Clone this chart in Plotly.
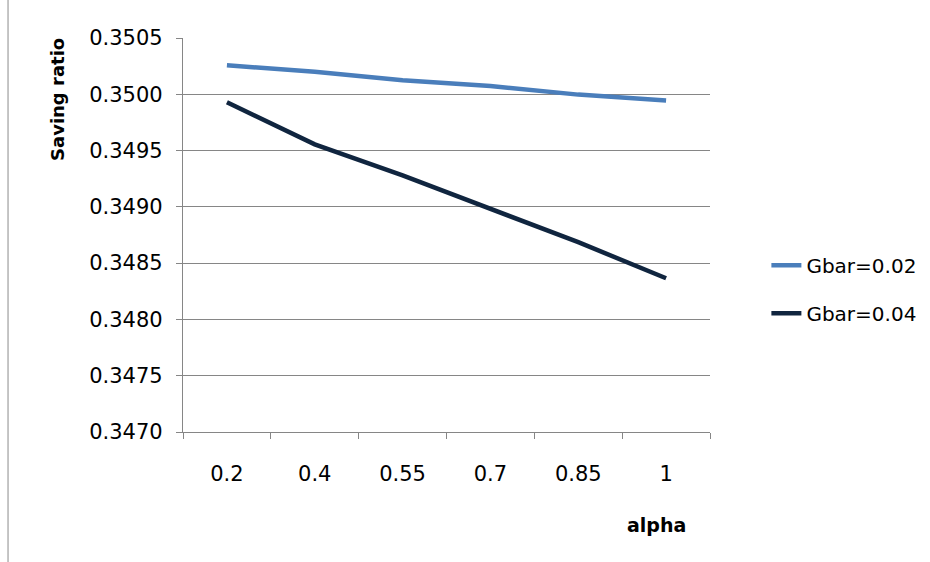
import plotly.graph_objects as go

alpha = ["0.2", "0.4", "0.55", "0.7", "0.85", "1"]
gbar_002 = [0.350258, 0.350200, 0.350125, 0.350074, 0.349997, 0.349945]
gbar_004 = [0.349930, 0.349555, 0.349279, 0.348983, 0.348686, 0.348366]
series_names = ["Gbar=0.02", "Gbar=0.04"]
y_ticks = [0.3470, 0.3475, 0.3480, 0.3485, 0.3490, 0.3495, 0.3500, 0.3505]

FONT = "DejaVu Sans"
GRAY = "#868686"

fig = go.Figure()
fig.add_trace(go.Scatter(x=alpha, y=gbar_002, mode="lines", name=series_names[0],
                         line=dict(color="#4a7ebb", width=4.5), legendgroup="a"))
fig.add_trace(go.Scatter(x=alpha, y=gbar_004, mode="lines", name=series_names[1],
                         line=dict(color="#10253f", width=4.5), legendgroup="b"))

fig.update_layout(
    width=930, height=562,
    margin=dict(l=183, r=220, t=38, b=130, autoexpand=False),
    paper_bgcolor="white", plot_bgcolor="white",
    font=dict(family=FONT, size=21, color="black"),
    legend=dict(x=1.107, y=0.362, xanchor="left", yanchor="middle",
                font=dict(size=20), tracegroupgap=19, traceorder="grouped",
                itemwidth=30, bgcolor="rgba(0,0,0,0)"),
    xaxis=dict(type="category", range=[-0.5, 5.5], showgrid=False,
               showline=True, linecolor=GRAY, linewidth=1.3,
               ticks="outside", ticklen=6, tickcolor=GRAY, tickwidth=1.3,
               tickson="boundaries", ticklabelstandoff=23,
               tickfont=dict(size=21)),
    yaxis=dict(range=[0.3470, 0.3505], tickvals=y_ticks, tickformat=".4f",
               showgrid=True, gridcolor=GRAY, gridwidth=1.3,
               showline=True, linecolor=GRAY, linewidth=1.3,
               ticks="outside", ticklen=6, tickcolor=GRAY, tickwidth=1.3,
               ticklabelstandoff=9,
               tickfont=dict(size=21), zeroline=False),
    annotations=[
        dict(text="<b>Saving ratio</b>", textangle=-90, xref="paper", yref="paper",
             x=-0.237, y=0.843, xanchor="center", yanchor="middle",
             showarrow=False, font=dict(size=18)),
        dict(text="<b>alpha</b>", xref="paper", yref="paper",
             x=0.899, y=-0.236, xanchor="center", yanchor="middle",
             showarrow=False, font=dict(size=19)),
    ],
    shapes=[dict(type="line", xref="paper", yref="paper",
                 x0=-0.332, x1=-0.332, y0=-0.34, y1=1.1,
                 line=dict(color="#a6a6a6", width=1.3))],
)

fig.write_html("out.html")
